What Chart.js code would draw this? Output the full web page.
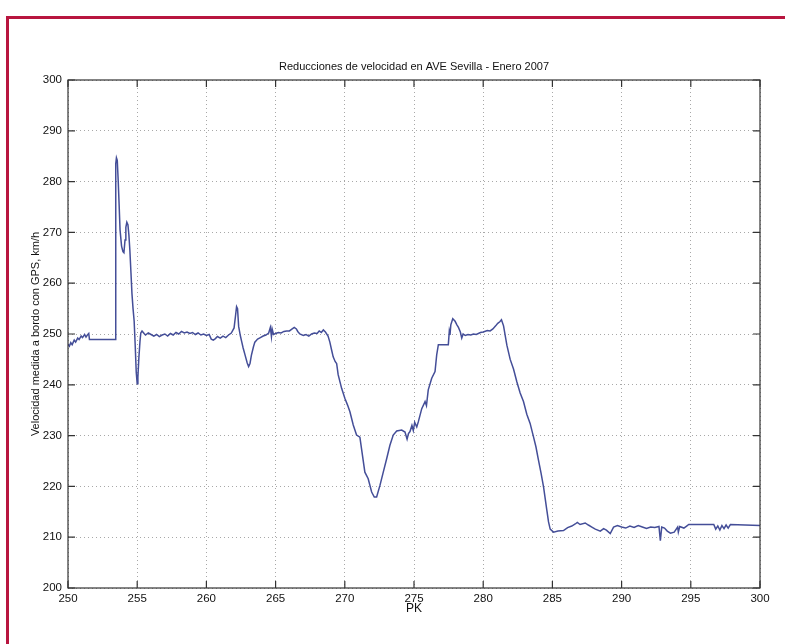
<!DOCTYPE html>
<html>
<head>
<meta charset="utf-8">
<script src="https://cdn.jsdelivr.net/npm/chart.js@4/dist/chart.umd.min.js"></script>
<style>
  html, body { margin: 0; padding: 0; background: #fff; }
  #frame { position: absolute; left: 6px; top: 16px; width: 820px; height: 700px;
           border-left: 3px solid #b8153f; border-top: 3px solid #b8153f; box-sizing: border-box; }
  #wrap { position: absolute; left: 0; top: 0; width: 785px; height: 644px; }
</style>
</head>
<body>
<div id="frame"></div>
<div id="wrap"><canvas id="c" width="785" height="644"></canvas></div>
<script>
// Punto kilométrico (PK) de cada muestra
const pk = [
  250.00, 250.10, 250.20, 250.30, 250.45, 250.55, 250.70, 250.80, 250.95, 251.05,
  251.20, 251.30, 251.40, 251.50, 251.55, 253.42, 253.45, 253.50, 253.56, 253.63,
  253.70, 253.76, 253.87, 253.97, 254.04, 254.12, 254.18, 254.25, 254.33, 254.40,
  254.47, 254.55, 254.62, 254.70, 254.78, 254.86, 254.93, 255.00, 255.05, 255.12,
  255.20, 255.26, 255.35, 255.50, 255.60, 255.80, 256.00, 256.20, 256.40, 256.60,
  256.80, 257.00, 257.20, 257.40, 257.60, 257.80, 258.00, 258.20, 258.40, 258.60,
  258.80, 259.00, 259.20, 259.40, 259.60, 259.80, 260.00, 260.20, 260.35, 260.50,
  260.65, 260.80, 261.00, 261.20, 261.40, 261.60, 261.80, 262.00, 262.10, 262.18,
  262.25, 262.33, 262.45, 262.55, 262.65, 262.80, 262.95, 263.05, 263.15, 263.25,
  263.40, 263.50, 263.70, 263.90, 264.10, 264.30, 264.50, 264.62, 264.70, 264.75,
  264.85, 265.00, 265.20, 265.40, 265.60, 265.80, 266.00, 266.20, 266.35, 266.50,
  266.60, 266.75, 267.00, 267.20, 267.40, 267.60, 267.80, 268.00, 268.15, 268.30,
  268.45, 268.60, 268.79, 268.92, 269.05, 269.16, 269.30, 269.41, 269.52, 269.77,
  270.01, 270.20, 270.37, 270.61, 270.85, 271.09, 271.21, 271.45, 271.69, 271.94,
  272.13, 272.30, 272.54, 272.78, 273.02, 273.26, 273.50, 273.75, 274.11, 274.35,
  274.50, 274.60, 274.71, 274.85, 274.95, 275.05, 275.20, 275.31, 275.56, 275.80,
  275.90, 276.03, 276.28, 276.52, 276.64, 276.76, 277.48, 277.55, 277.60, 277.66,
  277.80, 277.97, 278.10, 278.21, 278.35, 278.45, 278.55, 278.70, 278.90, 279.10,
  279.30, 279.50, 279.80, 280.00, 280.30, 280.50, 280.70, 280.90, 281.05, 281.20,
  281.32, 281.47, 281.71, 281.95, 282.19, 282.43, 282.67, 282.91, 283.15, 283.39,
  283.63, 283.81, 283.99, 284.18, 284.36, 284.60, 284.72, 284.84, 285.08, 285.40,
  285.80, 286.10, 286.40, 286.65, 286.80, 287.00, 287.37, 287.60, 287.85, 288.10,
  288.46, 288.70, 288.90, 289.18, 289.42, 289.70, 290.00, 290.30, 290.60, 290.90,
  291.20, 291.50, 291.80, 292.10, 292.40, 292.70, 292.80, 292.90, 293.10, 293.30,
  293.53, 293.80, 294.05, 294.10, 294.20, 294.50, 294.70, 294.85, 296.66, 296.80,
  296.95, 297.10, 297.25, 297.40, 297.55, 297.70, 297.86, 300.00
];

// Velocidad medida a bordo con GPS (km/h)
const speed = [
  248.0, 247.6, 248.3, 247.9, 248.8, 248.4, 249.2, 248.9, 249.6, 249.3,
  249.9, 249.4, 249.8, 250.1, 248.9, 248.9, 283.5, 284.7, 284.2, 280.0,
  275.0, 270.5, 267.3, 266.2, 266.0, 268.5, 271.0, 272.0, 271.5, 269.5,
  266.5, 262.0, 258.0, 255.0, 252.5, 247.5, 242.5, 240.2, 241.5, 245.3,
  248.5, 250.2, 250.6, 250.1, 249.8, 250.2, 249.9, 249.6, 249.9, 249.5,
  249.8, 250.0, 249.6, 250.1, 249.8, 250.3, 250.0, 250.5, 250.2, 250.4,
  250.1, 250.3, 249.9, 250.2, 249.8, 250.0, 249.7, 249.9, 249.0, 248.8,
  249.1, 249.5, 249.2, 249.6, 249.3, 249.8, 250.2, 251.2, 253.5, 255.4,
  255.0, 251.5, 249.7, 248.5, 247.3, 245.8, 244.3, 243.6, 244.2, 245.8,
  247.5, 248.4, 249.0, 249.3, 249.6, 249.8, 250.2, 251.3, 249.5, 251.0,
  249.9, 250.1, 250.3, 250.2, 250.5, 250.6, 250.6, 251.0, 251.3, 251.0,
  250.5, 250.0, 249.7, 249.9, 249.6, 250.0, 250.2, 250.1, 250.6, 250.3,
  250.8, 250.4, 249.6, 248.4, 246.8, 245.5, 244.6, 244.2, 242.0, 239.3,
  237.3, 236.0, 234.7, 232.1, 230.1, 229.7, 227.4, 222.8, 221.5, 218.9,
  217.9, 217.9, 220.2, 222.8, 225.4, 228.1, 230.1, 230.9, 231.1, 230.7,
  229.3, 230.4, 230.8, 232.0, 231.0, 232.6, 231.7, 232.7, 235.3, 236.7,
  235.9, 239.0, 241.3, 242.6, 245.9, 247.9, 247.9, 250.5, 249.8, 251.8,
  253.0, 252.5, 251.8, 251.3, 250.4, 249.2, 250.0, 249.7, 249.9, 249.8,
  250.0, 249.9, 250.3, 250.4, 250.7, 250.6, 251.0, 251.6, 252.1, 252.4,
  252.8, 251.6, 247.8, 245.0, 243.1, 240.6, 238.4, 236.7, 234.2, 232.4,
  229.8, 227.8, 225.2, 222.6, 219.9, 215.3, 213.0, 211.6, 211.0, 211.2,
  211.3, 211.9, 212.2, 212.6, 212.9, 212.5, 212.8, 212.4, 212.0, 211.6,
  211.2, 211.7, 211.4, 210.7, 212.0, 212.3, 212.0, 211.8, 212.2, 211.9,
  212.3, 212.0, 211.7, 212.0, 211.9, 212.1, 209.3, 212.0, 211.8, 211.2,
  210.8, 211.0, 212.0, 211.0, 212.1, 211.8, 212.2, 212.5, 212.5, 211.6,
  212.2, 211.4, 212.3, 211.7, 212.4, 211.8, 212.5, 212.3
];

// Límites y paso de los ejes
const pkTicks = { min: 250, max: 300, step: 5 };
const speedTicks = { min: 200, max: 300, step: 10 };

const chartTitle = 'Reducciones de velocidad en AVE Sevilla - Enero 2007';
const xLabel = 'PK';
const yLabel = 'Velocidad medida a bordo con GPS, km/h';

const points = pk.map((v, i) => ({ x: v, y: speed[i] }));

const FONT = "'Liberation Sans', Arial, Helvetica, sans-serif";
const AXIS_COLOR = '#333333';

// Título centrado sobre el área de trazado (no sobre todo el lienzo)
const axesTitle = {
  id: 'axesTitle',
  afterDraw(chart) {
    const { ctx, chartArea: a } = chart;
    ctx.save();
    ctx.fillStyle = '#111';
    ctx.font = '11px ' + FONT;
    ctx.textAlign = 'center';
    ctx.textBaseline = 'middle';
    ctx.fillText(chartTitle, (a.left + a.right) / 2, a.top - 13);
    ctx.restore();
  }
};

// Caja cerrada alrededor del área de trazado con marcas hacia dentro en los cuatro lados
const boxAndTicks = {
  id: 'boxAndTicks',
  afterDraw(chart) {
    const { ctx, chartArea: a, scales: { x, y } } = chart;
    const len = 7;
    ctx.save();
    ctx.strokeStyle = AXIS_COLOR;
    ctx.lineWidth = 1.2;
    ctx.strokeRect(a.left, a.top, a.right - a.left, a.bottom - a.top);
    ctx.beginPath();
    x.ticks.forEach(t => {
      const px = x.getPixelForValue(t.value);
      ctx.moveTo(px, a.bottom); ctx.lineTo(px, a.bottom - len);
      ctx.moveTo(px, a.top); ctx.lineTo(px, a.top + len);
    });
    y.ticks.forEach(t => {
      const py = y.getPixelForValue(t.value);
      ctx.moveTo(a.left, py); ctx.lineTo(a.left + len, py);
      ctx.moveTo(a.right, py); ctx.lineTo(a.right - len, py);
    });
    ctx.stroke();
    ctx.restore();
  }
};

new Chart(document.getElementById('c'), {
  type: 'line',
  data: {
    datasets: [{
      data: points,
      borderColor: '#444e98',
      borderWidth: 1.5,
      pointRadius: 0,
      tension: 0,
      fill: false
    }]
  },
  options: {
    responsive: false,
    animation: false,
    layout: { padding: { left: 0, top: 80, right: 25, bottom: 0 } },
    plugins: {
      legend: { display: false },
      tooltip: { enabled: false },
      title: { display: false }
    },
    scales: {
      x: {
        type: 'linear',
        min: pkTicks.min,
        max: pkTicks.max,
        afterFit(scale) { scale.height = 56; },
        ticks: {
          stepSize: pkTicks.step,
          padding: 4,
          color: '#111',
          font: { family: FONT, size: 11.5 },
          maxRotation: 0
        },
        grid: { color: '#a8a8a8', lineWidth: 1, drawTicks: false },
        border: { display: false, dash: [1, 3] },
        title: {
          display: true,
          text: xLabel,
          color: '#111',
          font: { family: FONT, size: 12, lineHeight: 1.2 },
          padding: { top: 0, bottom: 27.8 }
        }
      },
      y: {
        type: 'linear',
        min: speedTicks.min,
        max: speedTicks.max,
        afterFit(scale) { scale.width = 68; },
        ticks: {
          stepSize: speedTicks.step,
          padding: 6,
          color: '#111',
          font: { family: FONT, size: 11.5 }
        },
        grid: { color: '#a8a8a8', lineWidth: 1, drawTicks: false },
        border: { display: false, dash: [1, 3] },
        title: {
          display: true,
          text: yLabel,
          color: '#111',
          font: { family: FONT, size: 11, lineHeight: 1.2 },
          padding: { top: 29.4, bottom: 0 }
        }
      }
    }
  },
  plugins: [boxAndTicks, axesTitle]
});
</script>
</body>
</html>
